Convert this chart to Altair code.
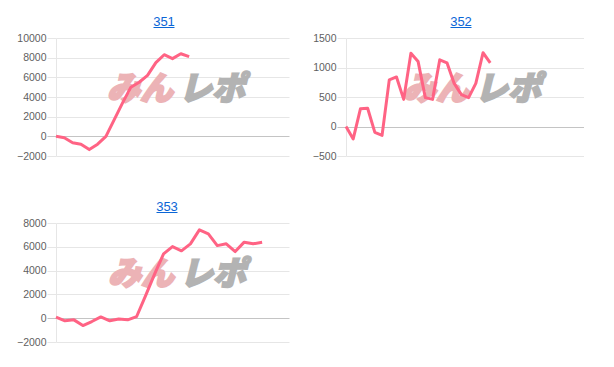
import altair as alt
import pandas as pd

titles = ["351", "352", "353"]
s351 = [0, -150, -650, -800, -1350, -800, 0, 1700, 3400, 5000, 5500, 6200, 7500, 8300, 7900, 8400, 8100]
s352 = [0, -210, 300, 310, -100, -150, 790, 840, 460, 1240, 1100, 490, 460, 1130, 1080, 730, 540, 490, 730, 1250, 1080]
s353 = [100, -220, -140, -620, -280, 110, -220, -60, -140, 140, 1900, 3700, 5400, 6020, 5660,
        6250, 7420, 7090, 6100, 6250, 5600, 6390, 6250, 6390]
x_max = [28, 33, 26]
y_ticks_351 = [-2000, 0, 2000, 4000, 6000, 8000, 10000]
y_ticks_352 = [-500, 0, 500, 1000, 1500]
y_ticks_353 = [-2000, 0, 2000, 4000, 6000, 8000]
wm_left = ["みん"]
wm_right = ["レポ"]

LINE = "#ff6384"
LINK = "#0b66d6"


def panel(title, series, xmax, ticks, width, height, tx, wx):
    df = pd.DataFrame({"i": list(range(len(series))), "v": series})
    xs = alt.Scale(domain=[0, xmax], nice=False, zero=False)
    ys = alt.Scale(domain=[ticks[0], ticks[-1]], nice=False, zero=False)
    line = alt.Chart(df).mark_line(color=LINE, strokeWidth=3, strokeJoin="round").encode(
        x=alt.X("i:Q", scale=xs, axis=None),
        y=alt.Y("v:Q", scale=ys, axis=alt.Axis(
            values=ticks, title=None, format="d", tickSize=9, labelPadding=1,
            gridColor={"condition": {"test": "datum.value === 0", "value": "#c4c4c4"}, "value": "#e6e6e6"},
            tickColor={"condition": {"test": "datum.value === 0", "value": "#c4c4c4"}, "value": "#e6e6e6"},
        )),
    )
    wl = alt.Chart(pd.DataFrame({"t": wm_left})).mark_text(
        font="Noto Sans CJK JP", fontSize=33, fontWeight=900, fontStyle="italic",
        color="#ecb3b6", stroke="#ecb3b6", strokeWidth=2, align="left", baseline="middle"
    ).encode(text="t:N", x=alt.value(wx), y=alt.value(52))
    wr = alt.Chart(pd.DataFrame({"t": wm_right})).mark_text(
        font="Noto Sans CJK JP", fontSize=33, fontWeight=900, fontStyle="italic",
        color="#b3b3b3", stroke="#b3b3b3", strokeWidth=2, align="left", baseline="middle"
    ).encode(text="t:N", x=alt.value(wx + 72), y=alt.value(52))
    tt = alt.Chart(pd.DataFrame({"t": [title]})).mark_text(
        font="Liberation Sans", fontSize=13, color=LINK, align="center", baseline="alphabetic"
    ).encode(text="t:N", x=alt.value(tx), y=alt.value(-12))
    ul = alt.Chart(pd.DataFrame({"t": [title]})).mark_rule(color=LINK, strokeWidth=1).encode(
        x=alt.value(tx - 10.5), x2=alt.value(tx + 10.5), y=alt.value(-10.5)
    )
    return alt.layer(wl, wr, line, tt, ul).properties(width=width, height=height)


p1 = panel(titles[0], s351, x_max[0], y_ticks_351, 233, 118, 108, 51)
p2 = panel(titles[1], s352, x_max[1], y_ticks_352, 238, 118, 115, 57)
p3 = panel(titles[2], s353, x_max[2], y_ticks_353, 233, 119, 111, 52)

chart = alt.concat(p1, p2, p3, columns=2, spacing={"row": 39, "column": 23}).properties(
    padding={"left": 16, "top": 16, "right": 0, "bottom": 0},
    background="white",
).configure_view(stroke=None).configure_axis(
    labelFont="Liberation Sans", labelFontSize=10.5, labelColor="#5f5f5f",
    domainColor="#e6e6e6", gridColor="#e6e6e6",
)

chart.save("out.html", embed_options={"renderer": "svg", "actions": False})
